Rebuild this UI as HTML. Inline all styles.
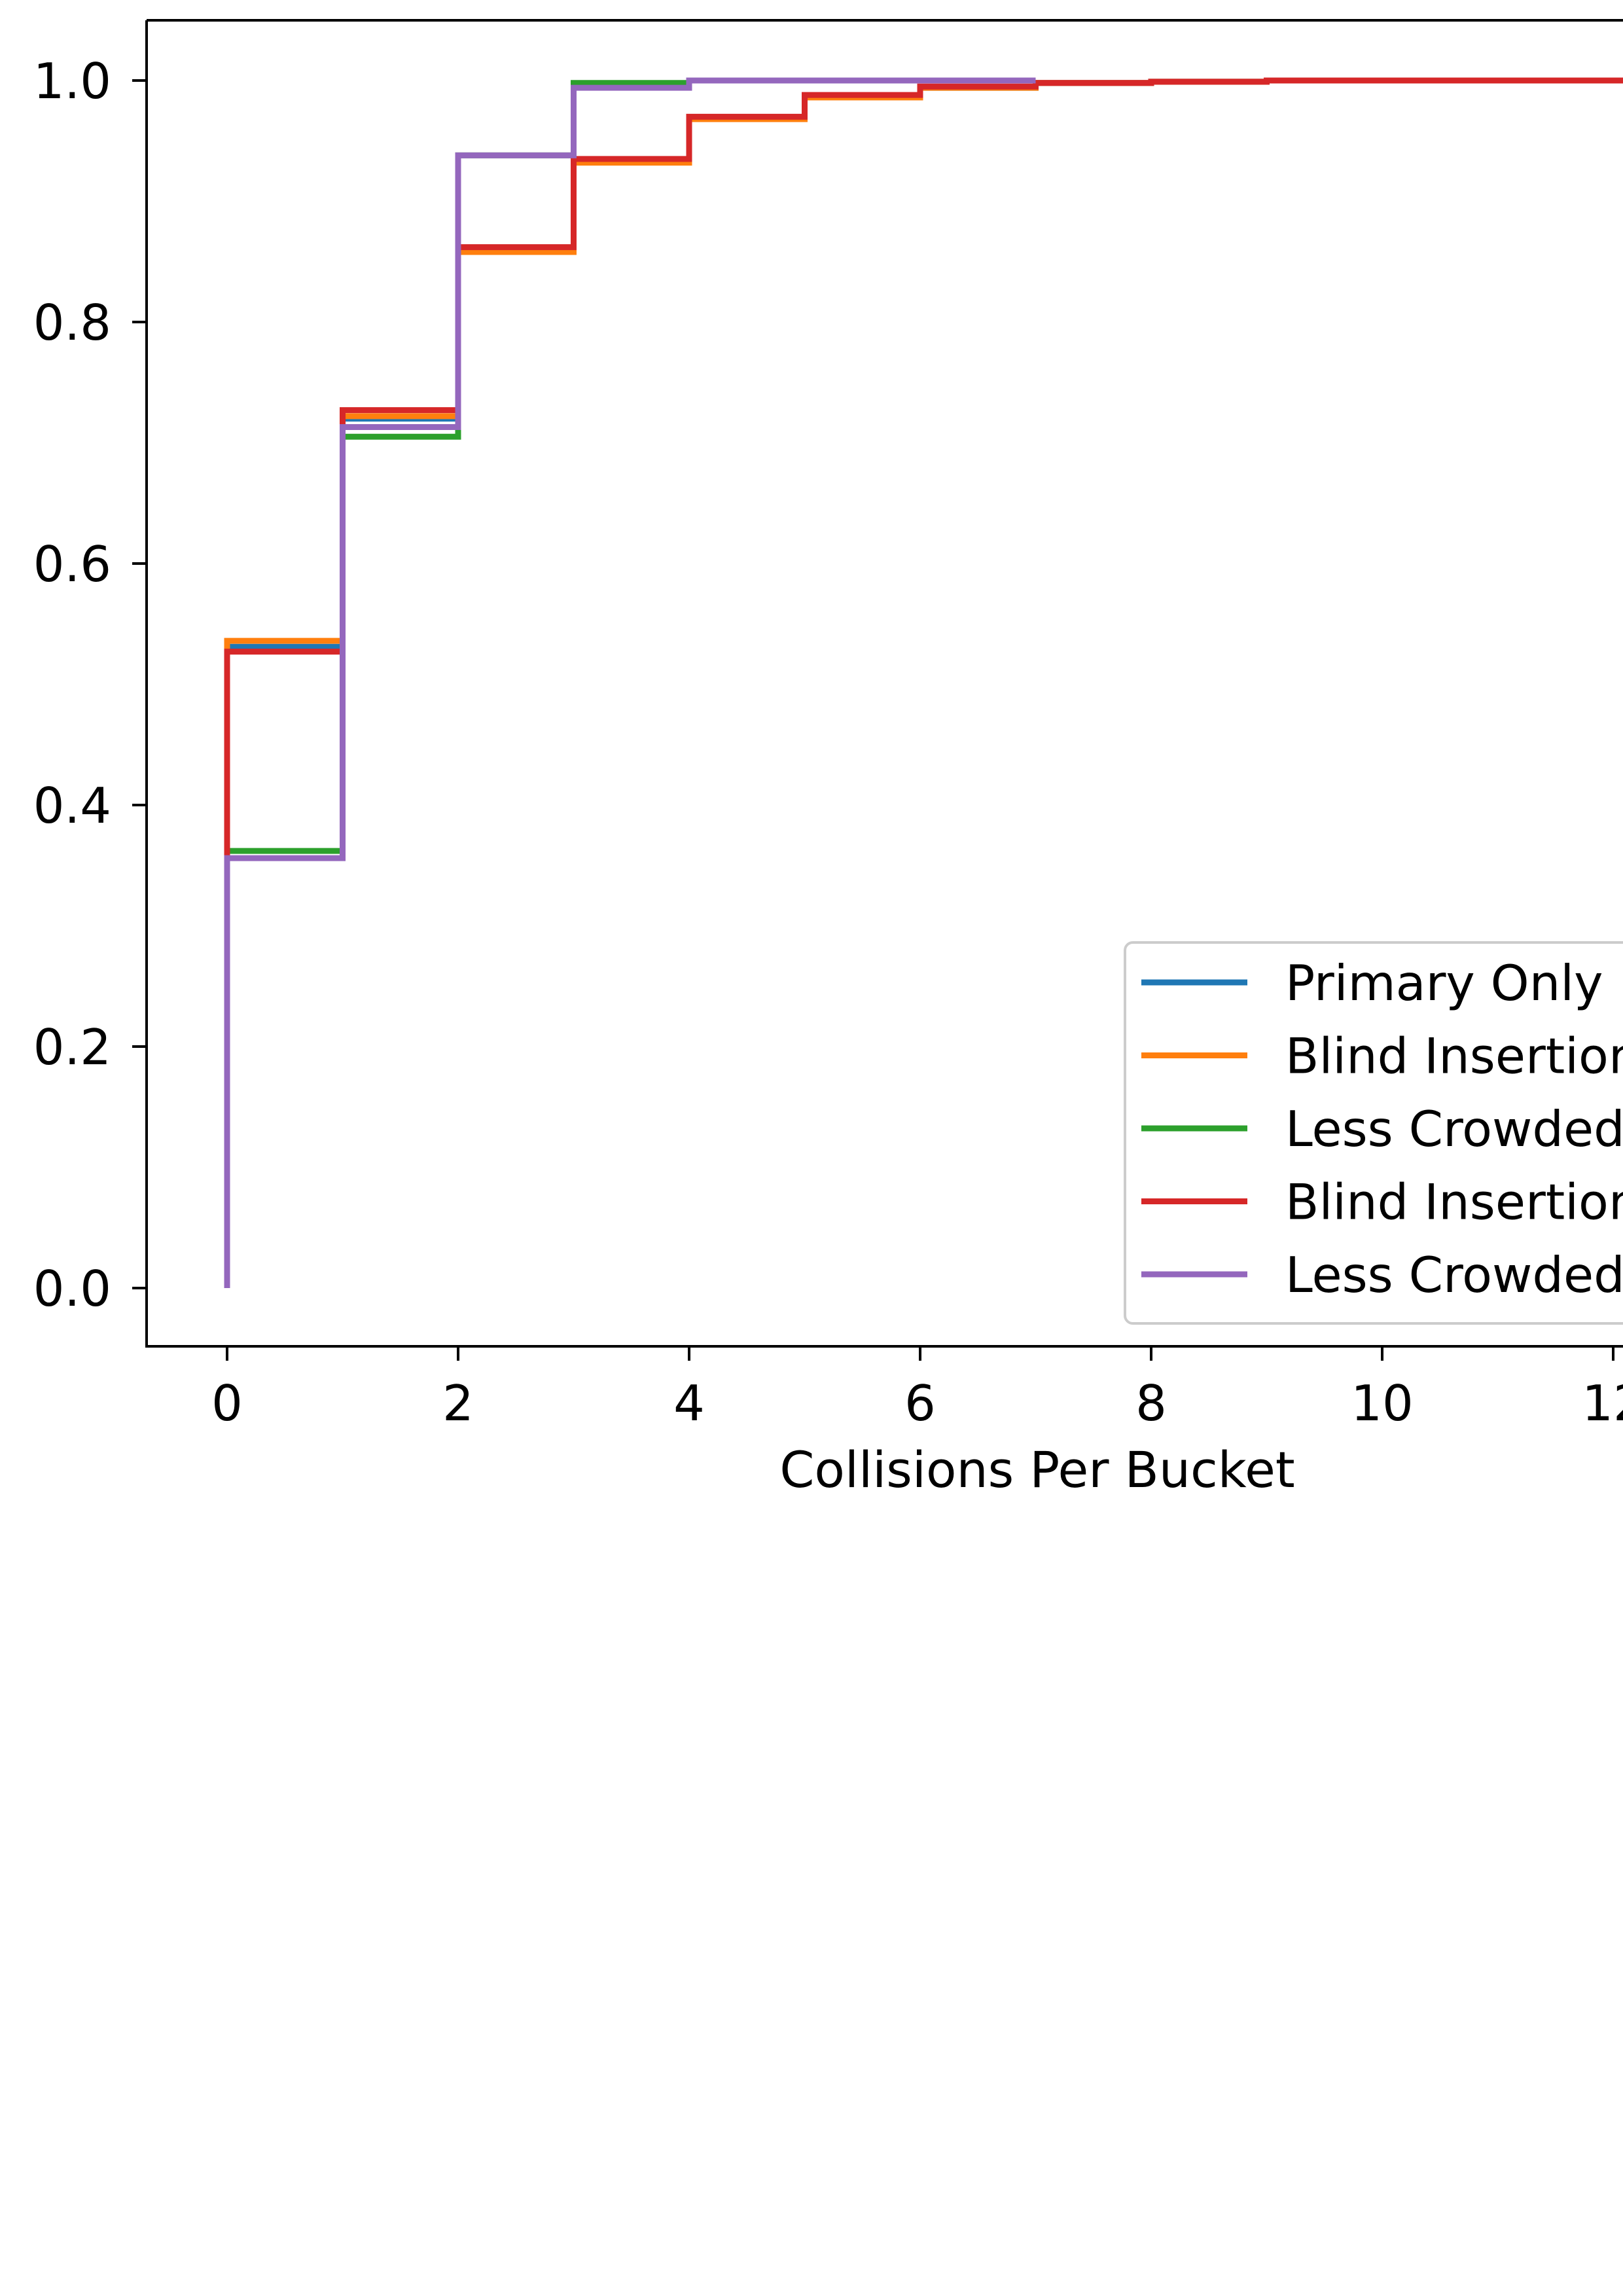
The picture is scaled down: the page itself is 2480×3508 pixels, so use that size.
<!DOCTYPE html>
<html><head><meta charset="utf-8"><style>
html,body{margin:0;padding:0;background:#fff;width:2480px;height:3508px;overflow:hidden}
svg{display:block}
text{font-family:"DejaVu Sans","Liberation Sans",sans-serif;fill:#000}
</style></head><body>
<svg id="chart" width="2480" height="3508" xmlns="http://www.w3.org/2000/svg">
<rect x="0" y="0" width="2480" height="3508" fill="#fff"/>
<defs><clipPath id="plotclip"><rect x="224" y="31" width="2300" height="2026"/></clipPath></defs>
<g id="series" clip-path="url(#plotclip)"></g>
<g id="axes"></g>
<g id="legend"></g>
</svg>
<script>
const xTicks = [0, 2, 4, 6, 8, 10, 12];
const yTicks = [0.0, 0.2, 0.4, 0.6, 0.8, 1.0];
const seriesNames = ["Primary Only", "Blind Insertion", "Less Crowded", "Blind Insertion", "Less Crowded"];
const seriesColors = ["#1f77b4", "#ff7f0e", "#2ca02c", "#d62728", "#9467bd"];
const primaryValues = [0, 0.531, 0.720, 0.860, 0.933, 0.969, 0.987, 0.994, 0.998, 0.999, 1.0, 1.0, 1.0, 1.0, 1.0];
const blindValues = [0, 0.536, 0.722, 0.858, 0.932, 0.968, 0.986, 0.994, 0.998, 0.999, 1.0, 1.0, 1.0, 1.0, 1.0];
const lessValues = [0, 0.362, 0.705, 0.938, 0.998, 1.0, 1.0, 1.0, 1.0];
const blind2Values = [0, 0.527, 0.727, 0.862, 0.935, 0.970, 0.988, 0.995, 0.998, 0.999, 1.0, 1.0, 1.0, 1.0, 1.0];
const less2Values = [0, 0.356, 0.713, 0.938, 0.994, 1.0, 1.0, 1.0, 1.0];
const allSeries = [primaryValues, blindValues, lessValues, blind2Values, less2Values];

const NS = "http://www.w3.org/2000/svg";
function xs(v){ return 347 + v * 176.5; }
function ys(v){ return 1968 - v * 1845; }
function mk(tag, attrs, parent){
  const e = document.createElementNS(NS, tag);
  for (const k in attrs) e.setAttribute(k, attrs[k]);
  parent.appendChild(e); return e;
}
const gS = document.getElementById('series');
const gA = document.getElementById('axes');
const gL = document.getElementById('legend');

allSeries.forEach((vals, i) => {
  let d = "M" + xs(0) + "," + ys(vals[0]);
  for (let k = 1; k < vals.length; k++) {
    d += " L" + xs(k - 1) + "," + ys(vals[k]);
    if (k < vals.length - 1) d += " L" + xs(k) + "," + ys(vals[k]);
  }
  const p = mk('path', {d: d, fill: 'none', stroke: seriesColors[i], 'stroke-width': 9, 'stroke-linejoin': 'miter'}, gS);
  
  
});

const frame = mk('path', {d: 'M224,31 L2540,31 M224,31 L224,2057 L2540,2057', fill: 'none', stroke: '#000', 'stroke-width': 4}, gA);



xTicks.forEach(t => {
  const x = xs(t);
  const tk = mk('line', {x1: x, y1: 2057, x2: x, y2: 2079, stroke: '#000', 'stroke-width': 4}, gA);
  
  
  const tx = mk('text', {x: x, y: 2170, 'font-size': 75, 'text-anchor': 'middle'}, gA);
  tx.textContent = String(t);
  
  
});
yTicks.forEach(t => {
  const y = ys(t);
  const tk = mk('line', {x1: 202, y1: y, x2: 224, y2: y, stroke: '#000', 'stroke-width': 4}, gA);
  
  
  const tx = mk('text', {x: 170, y: y + 27, 'font-size': 75, 'text-anchor': 'end'}, gA);
  tx.textContent = t.toFixed(1);
  
  
});
const xl = mk('text', {x: 1585, y: 2272, 'font-size': 76, 'text-anchor': 'middle'}, gA);
xl.textContent = 'Collisions Per Bucket';



const box = mk('rect', {x: 1719, y: 1440, width: 900, height: 582, rx: 12, fill: '#fff', 'fill-opacity': 0.8, stroke: '#ccc', 'stroke-width': 4}, gL);


seriesNames.forEach((n, i) => {
  const y = 1501 + i * 111.5;
  const ln = mk('line', {x1: 1744, y1: y, x2: 1906, y2: y, stroke: seriesColors[i], 'stroke-width': 9}, gL);
  
  
  const tx = mk('text', {x: 1964, y: y + 27, 'font-size': 75}, gL);
  tx.textContent = n;
  
  
});
</script>
</body></html>
